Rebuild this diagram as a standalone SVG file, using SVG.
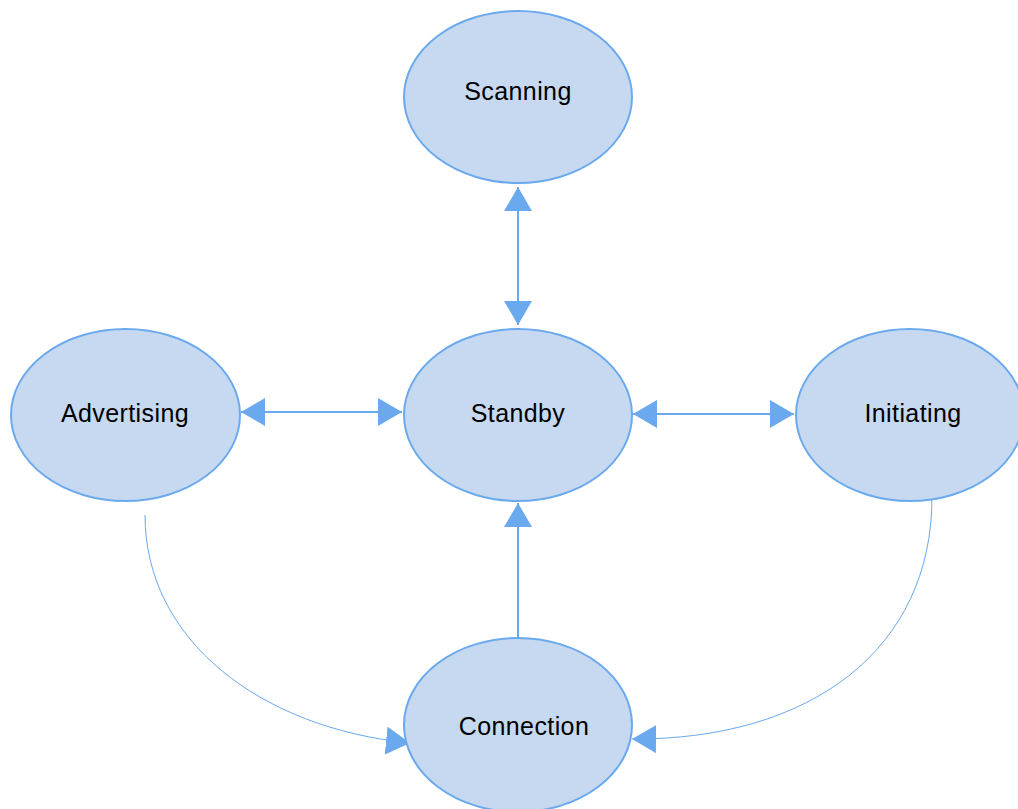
<svg xmlns="http://www.w3.org/2000/svg" width="1018" height="809" viewBox="0 0 1018 809">
<style>
.node{fill:#c6d9f1;stroke:#6aa9ee;stroke-width:2}
.lbl{font-family:"Liberation Sans",Arial,sans-serif;font-size:25px;fill:#000;text-anchor:middle;letter-spacing:0.4px}
.edge{fill:none;stroke:#6aa9ee;stroke-width:2}
.thin{fill:none;stroke:#6aa9ee;stroke-width:1}
</style>
<defs>
<marker id="ah" markerUnits="userSpaceOnUse" markerWidth="26" markerHeight="28" refX="24" refY="14" orient="auto-start-reverse" viewBox="0 0 26 28">
<path d="M0,0 L24,14 L0,28 Z" fill="#6aa9ee"/>
</marker>
</defs>
<rect width="1018" height="809" fill="#fff"/>
<g id="connectors">
<line class="edge" x1="518" y1="187" x2="518" y2="325" marker-start="url(#ah)" marker-end="url(#ah)"/>
<line class="edge" x1="241" y1="412" x2="402" y2="412" marker-start="url(#ah)" marker-end="url(#ah)"/>
<line class="edge" x1="633" y1="414" x2="794" y2="414" marker-start="url(#ah)" marker-end="url(#ah)"/>
<line class="edge" x1="518" y1="640" x2="518" y2="503" marker-end="url(#ah)"/>
<path class="thin" d="M145,515 C145,640 260,728 410,743" marker-end="url(#ah)"/>
<path class="thin" d="M932,497 C932,650 810,740 632,739" marker-end="url(#ah)"/>
</g>
<g id="scanning"><ellipse class="node" cx="518" cy="97" rx="114" ry="86"/><text class="lbl" x="518" y="100">Scanning</text></g>
<g id="advertising"><ellipse class="node" cx="125.5" cy="415" rx="114.5" ry="86"/><text class="lbl" x="125" y="422">Advertising</text></g>
<g id="standby"><ellipse class="node" cx="518" cy="415" rx="114" ry="86"/><text class="lbl" x="518" y="422">Standby</text></g>
<g id="initiating"><ellipse class="node" cx="910" cy="415" rx="114" ry="86"/><text class="lbl" x="913" y="422">Initiating</text></g>
<g id="connection"><ellipse class="node" cx="518" cy="725" rx="114" ry="87"/><text class="lbl" x="524" y="735">Connection</text></g>
</svg>
